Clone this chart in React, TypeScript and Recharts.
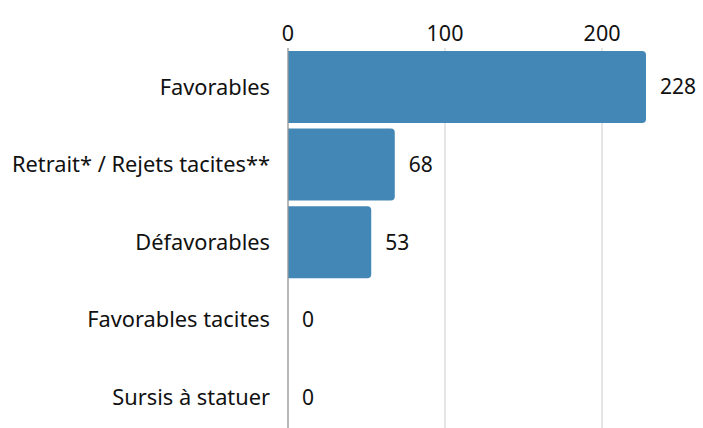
import React from "react";
import { BarChart, Bar, XAxis, YAxis, CartesianGrid, LabelList, Rectangle } from "recharts";

const categories = [
  "Favorables",
  "Retrait* / Rejets tacites**",
  "Défavorables",
  "Favorables tacites",
  "Sursis à statuer",
];
const values = [228, 68, 53, 0, 0];
const xTicks = [0, 100, 200];

const data = categories.map((name, i) => ({ name, value: values[i] }));

const FONT = "'Noto Sans', sans-serif";

const BarShape = (props: any) => {
  if (!props.value || props.value <= 0) return <g />;
  return <Rectangle {...props} />;
};

export default function App() {
  return (
    <div style={{ position: "absolute", left: 0, top: 0, width: 703, height: 440, overflow: "hidden" }}>
      <BarChart
        width={703}
        height={440}
        data={data}
        layout="vertical"
        margin={{ top: 0, right: 57, bottom: 4, left: 0 }}
        barCategoryGap={3}
      >
        <CartesianGrid horizontal={false} stroke="#dddddd" strokeWidth={1.5} verticalValues={xTicks} />
        <XAxis
          type="number"
          orientation="top"
          domain={[0, 228]}
          ticks={xTicks}
          axisLine={false}
          tickLine={false}
          tickSize={0}
          tickMargin={7}
          height={48}
          tick={{ fill: "#111", fontSize: 21.5, fontFamily: FONT }}
        />
        <YAxis
          type="category"
          dataKey="name"
          width={288}
          axisLine={{ stroke: "#999", strokeWidth: 1.2 }}
          tickLine={false}
          tickSize={0}
          tickMargin={18}
          tick={{ fill: "#111", fontSize: 21.8, fontFamily: FONT }}
        />
        <Bar
          dataKey="value"
          fill="#4387b6"
          radius={[0, 4, 4, 0]}
          minPointSize={0.01}
          shape={BarShape}
          isAnimationActive={false}
        >
          <LabelList
            dataKey="value"
            position="right"
            offset={14}
            style={{ fill: "#111", fontSize: 21, fontFamily: FONT }}
          />
        </Bar>
      </BarChart>
    </div>
  );
}
